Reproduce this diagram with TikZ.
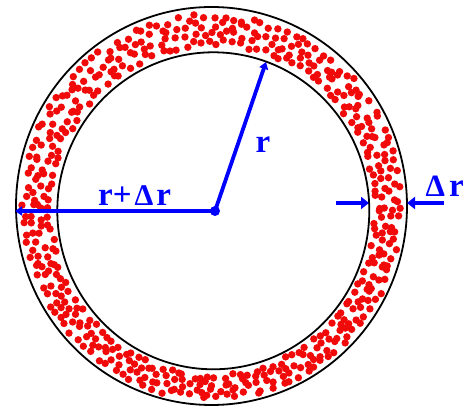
\documentclass[tikz,border=0pt]{standalone}
\usepackage{fontspec}
\setmainfont{Liberation Serif}
\usetikzlibrary{arrows.meta}
\definecolor{dotred}{RGB}{240,10,10}
\definecolor{arrblue}{RGB}{0,0,255}
\tikzset{
  dot/.style={fill=dotred},
  ring/.style={draw=black,line width=1.8pt},
  blueline/.style={draw=arrblue,line width=3.8pt},
  tipS/.style={-{Triangle[length=7pt,width=9pt]}},
  tipL/.style={-{Triangle[length=8pt,width=12pt]}},
  lab/.style={text=arrblue,inner sep=0pt,anchor=base west,font=\fontsize{33}{33}\selectfont\bfseries}
}
\newcommand{\smallDelta}[1]{{\fontsize{#1}{#1}\selectfont Δ}}
\begin{document}
\begin{tikzpicture}[x=1pt,y=-1pt]
\useasboundingbox (0,0) rectangle (464,406);
\fill[white] (0,0) rectangle (464,406);
% dots in the band (jittered grid)
\pgfmathsetseed{2024}
\foreach \row in {0,...,3}{
  \foreach \j in {0,...,127}{
    \pgfmathsetmacro{\a}{(\j+0.5+0.25*\row+0.9*(rnd-0.5))*2.8125}
    \pgfmathsetmacro{\t}{0.12+(\row+0.5)*0.19+0.16*(rnd-0.5)}
    \pgfmathsetmacro{\px}{(1-\t)*(213.3+156*cos(\a))+\t*(211.5+195.5*cos(\a))}
    \pgfmathsetmacro{\py}{(1-\t)*(210.8+158.5*sin(\a))+\t*(206+199*sin(\a))}
    \fill[dot] (\px,\py) circle (3.7pt);
  }
}
% circles
\draw[ring] (211.5,206) ellipse [x radius=195.5pt, y radius=199pt];
\draw[ring] (213.3,210.8) ellipse [x radius=156pt, y radius=158.5pt];
% coordinates
\coordinate (O) at (215,211);
\coordinate (Rtip) at (266,62);
\coordinate (Ltip) at (15,211);
\coordinate (a1s) at (336,203);
\coordinate (a1e) at (369,203);
\coordinate (a2s) at (444,203);
\coordinate (a2e) at (407,203);
% arrows
\draw[blueline,tipS] (O) -- (Rtip);
\draw[blueline,tipS] (O) -- (Ltip);
\fill[arrblue] (O) circle (5pt);
\draw[blueline,tipL] (a1s) -- (a1e);
\draw[blueline,tipL] (a2s) -- (a2e);
% labels
\node[lab] (lrdr) at (98,206) {r+\hspace{3pt}\smallDelta{30}\hspace{3pt}r};
\node[lab] (lr) at (255.5,153) {r};
\node[lab] (ldr) at (425.5,197) {\smallDelta{31}\hspace{4pt}r};
\end{tikzpicture}
\end{document}
